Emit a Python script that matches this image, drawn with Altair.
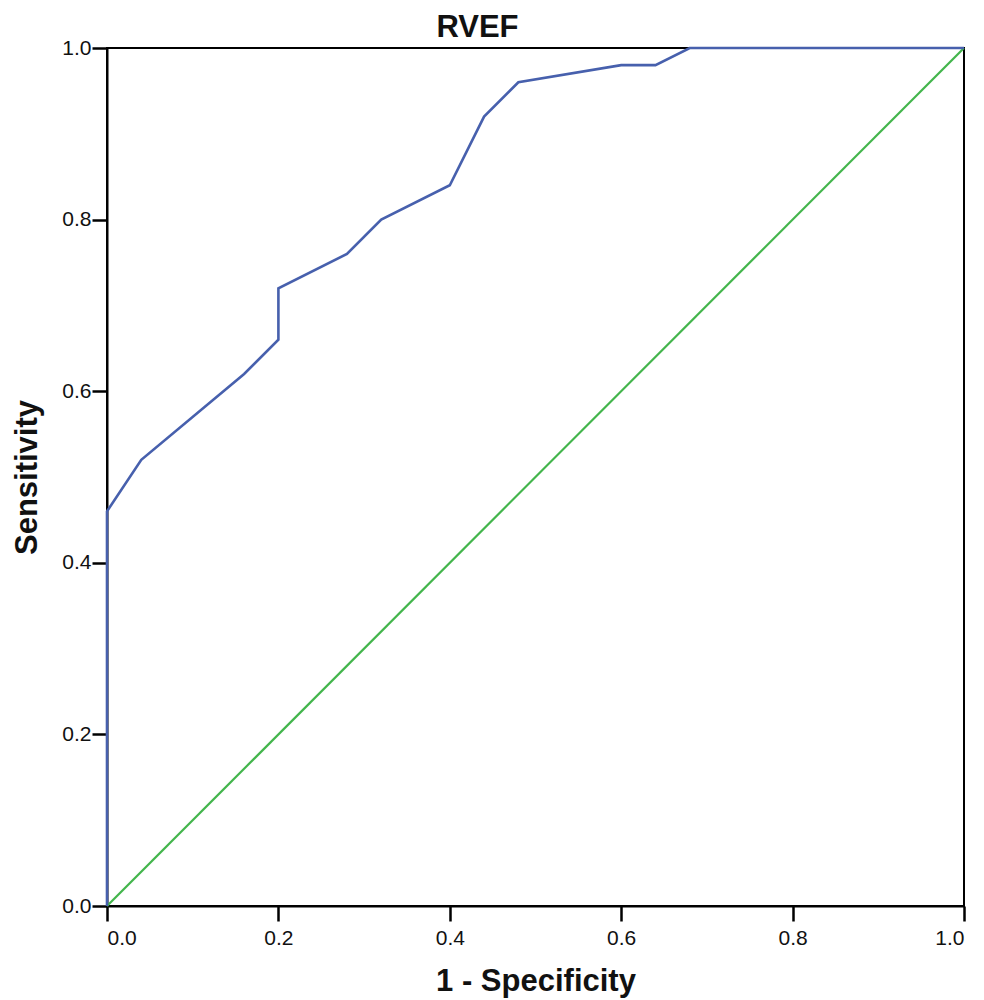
import altair as alt
import pandas as pd

# ROC curve points (1 - specificity, sensitivity)
roc_fpr = [0.0, 0.0, 0.04, 0.16, 0.20, 0.20, 0.28, 0.32, 0.40, 0.44, 0.48, 0.60, 0.64, 0.68, 1.0]
roc_tpr = [0.0, 0.46, 0.52, 0.62, 0.66, 0.72, 0.76, 0.80, 0.84, 0.92, 0.96, 0.98, 0.98, 1.0, 1.0]

# Reference diagonal
diag_x = [0.0, 1.0]
diag_y = [0.0, 1.0]

tick_values = [0.0, 0.2, 0.4, 0.6, 0.8, 1.0]

roc_df = pd.DataFrame({"fpr": roc_fpr, "tpr": roc_tpr, "idx": list(range(len(roc_fpr)))})
diag_df = pd.DataFrame({"fpr": diag_x, "tpr": diag_y, "idx": [0, 1]})

label_font = "Liberation Sans, Arial, sans-serif"
title_font = "Liberation Sans, Arial, sans-serif"

x_enc = alt.X("fpr:Q", scale=alt.Scale(domain=[0, 1], nice=False),
              axis=alt.Axis(title="1 - Specificity", values=tick_values, format=".1f"))
y_enc = alt.Y("tpr:Q", scale=alt.Scale(domain=[0, 1], nice=False),
              axis=alt.Axis(title="Sensitivity", values=tick_values, format=".1f"))

diag = alt.Chart(diag_df).mark_line(color="#43b54c", strokeWidth=2.2).encode(
    x=x_enc, y=y_enc, order="idx:Q")
roc = alt.Chart(roc_df).mark_line(color="#4760ad", strokeWidth=2.6).encode(
    x=x_enc, y=y_enc, order="idx:Q")

chart = alt.layer(diag, roc).properties(
    width=857, height=858,
    title=alt.TitleParams("RVEF", font=title_font, fontSize=31, fontWeight="bold",
                          color="#111111", anchor="middle", dx=-58, offset=0, dy=7),
    autosize=alt.AutoSizeParams(type="none"),
    padding={"left": 99, "top": 40, "right": 12, "bottom": 94},
).configure_view(
    stroke="black", strokeWidth=2
).configure_axis(
    grid=False,
    domainColor="black", domainWidth=2,
    tickColor="black", tickWidth=2.5, tickSize=15,
    labelFont=label_font, labelFontSize=21, labelColor="#111111",
    titleFont=title_font, titleFontSize=31, titleFontWeight="bold", titleColor="#111111",
).configure_axisX(
    labelPadding=6, titlePadding=18
).configure_axisY(
    labelPadding=1, titlePadding=18
)

chart.save("out.html", embed_options={"renderer": "svg", "actions": False})
